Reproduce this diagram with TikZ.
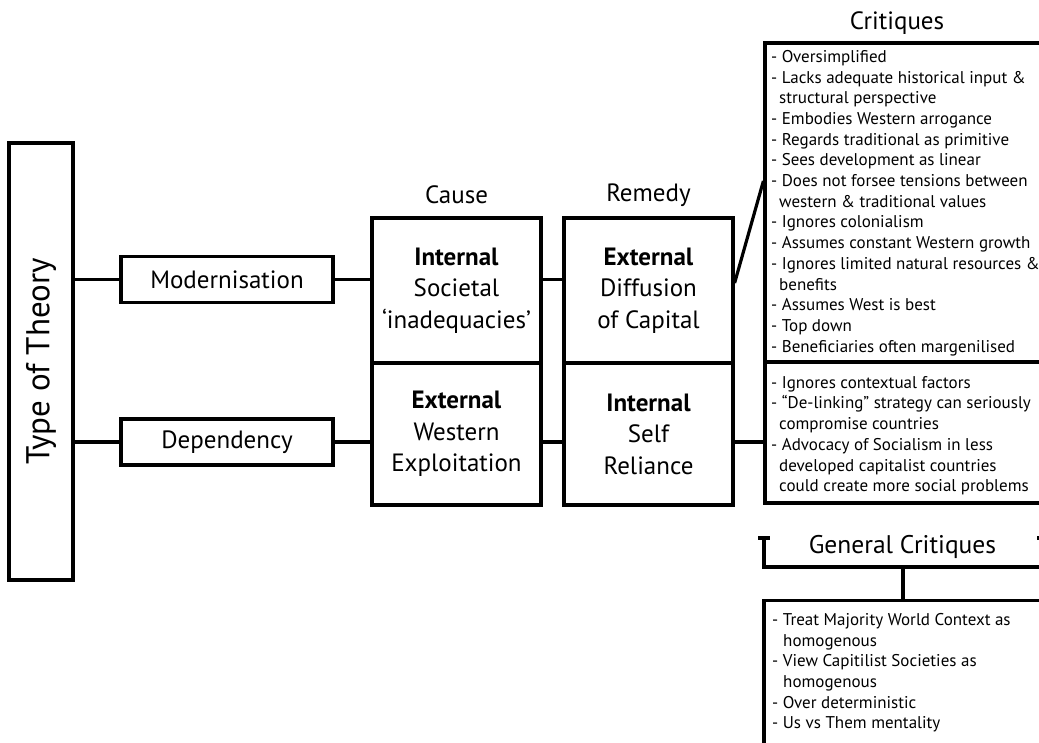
\documentclass[tikz,border=0pt]{standalone}
\usepackage{fontspec}
\setmainfont{PT Sans}
\begin{document}
\begin{tikzpicture}[x=1pt,y=-1pt,
  frame/.style={draw, line width=3.2pt, rectangle, inner sep=0pt, align=center, fill=white},
  link/.style={line width=3.2pt},
  big/.style={font=\fontsize{25}{31.5}\selectfont},
  listtext/.style={font=\fontsize{17}{20.7}\selectfont, align=left, anchor=north west, inner sep=0pt},
  head/.style={font=\fontsize{25}{28}\selectfont, inner sep=0pt}]
\clip (0,0) rectangle (1039,742);

% left column: theory types
\node[frame, minimum width=437pt, minimum height=64pt, rotate=90,
      font=\fontsize{33}{36}\selectfont] (type) at (41,361.5) {Type of Theory};
\node[frame, big, minimum width=212pt, minimum height=46pt] (modern) at (227,279.5) {Modernisation};
\node[frame, big, minimum width=212pt, minimum height=46pt] (dep) at (227,442) {Dependency};

% cause / remedy grid
\node[head] (causeT) at (456.5,195) {Cause};
\node[head] (remT) at (648.5,195) {Remedy};
\node[frame, big, minimum width=169pt, minimum height=145pt] (causeA) at (456.5,290.5)
  {\textbf{Internal}\\Societal\\‘inadequacies’};
\node[frame, big, minimum width=169pt, minimum height=142pt] (causeB) at (456.5,434)
  {\textbf{External}\\Western\\Exploitation};
\node[frame, big, minimum width=169pt, minimum height=145pt] (remA) at (648.5,290.5)
  {\textbf{External}\\Diffusion\\of Capital};
\node[frame, big, minimum width=169pt, minimum height=142pt] (remB) at (648.5,434)
  {\textbf{Internal}\\Self\\Reliance};

% critiques column
\node[head] (critT) at (897,23) {Critiques};
\node[frame, minimum width=285pt, minimum height=319pt] (critA) at (907.5,202.5) {};
\node[frame, minimum width=285pt, minimum height=141pt] (critB) at (907.5,432.5) {};
\node[listtext] (listA) at (771,50) {%
- Oversimplified\\
- Lacks adequate historical input \&\\
\hspace*{8pt}structural perspective\\
- Embodies Western arrogance\\
- Regards traditional as primitive\\
- Sees development as linear\\
- Does not forsee tensions between\\
\hspace*{8pt}western \& traditional values\\
- Ignores colonialism\\
- Assumes constant Western growth\\
- Ignores limited natural resources \&\\
\hspace*{8pt}benefits\\
- Assumes West is best\\
- Top down\\
- Beneficiaries often margenilised};
\node[listtext] (listB) at (771,376) {%
- Ignores contextual factors\\
- “De-linking” strategy can seriously\\
\hspace*{8pt}compromise countries\\
- Advocacy of Socialism in less\\
\hspace*{8pt}developed capitalist countries\\
\hspace*{8pt}could create more social problems};

% general critiques
\node[head, font=\fontsize{25.5}{28}\selectfont] (genT) at (902.5,547) {General Critiques};
\coordinate (bl) at (764,538);
\coordinate (br) at (1043,538);
\coordinate (bj) at (903,567);
\node[frame, minimum width=278pt, minimum height=170pt, anchor=north] (gbox) at (903,599) {};
\node[listtext] (listG) at (772,613) {%
- Treat Majority World Context as\\
\hspace*{11pt}homogenous\\
- View Capitilist Societies as\\
\hspace*{11pt}homogenous\\
- Over deterministic\\
- Us vs Them mentality};

% connectors
\draw[link] (type.south |- modern.west) -- (modern.west);
\draw[link] (type.south |- dep.west) -- (dep.west);
\draw[link] (modern.east) -- (modern.east -| causeA.west);
\draw[link] (dep.east) -- (dep.east -| causeB.west);
\draw[link] (causeA.east |- modern.east) -- (remA.west |- modern.east);
\draw[link] (causeB.east |- dep.east) -- (remB.west |- dep.east);
\draw[link] ([yshift=7.5pt]remA.east) -- ([yshift=21.5pt]critA.west);
\draw[link] (remB.east |- dep.east) -- (critB.west |- dep.east);

% bracket over the general critiques
\draw[link] ([xshift=-6pt]bl) -- ([xshift=6pt]bl);
\draw[link] ([xshift=-6pt]br) -- ([xshift=6pt]br);
\draw[link] (bl) -- (bl |- bj) -- (br |- bj) -- (br);
\draw[link] (bj) -- (gbox.north);
\end{tikzpicture}
\end{document}
